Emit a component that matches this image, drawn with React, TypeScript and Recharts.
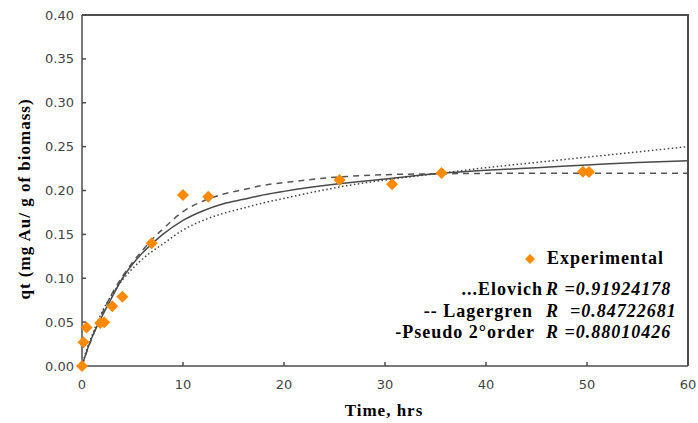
import React from "react";
import { ComposedChart, Line, Scatter, XAxis, YAxis, Legend } from "recharts";

// experimental points
const expTime = [0, 0.15, 0.45, 1.8, 2.2, 3.0, 4.0, 6.9, 10.0, 12.5, 25.5, 30.7, 35.6, 49.6, 50.2];
const expQt = [0.0, 0.027, 0.044, 0.049, 0.05, 0.068, 0.079, 0.14, 0.195, 0.193, 0.212, 0.207, 0.22, 0.2215, 0.2212];

// fitted curves
const fitTime = [0, 0.5, 1, 2, 3, 4, 5, 6, 7, 8, 10, 12, 14, 16, 18, 20, 25, 30, 35, 40, 45, 50, 55, 60];
const elovich = [0, 0.02, 0.035, 0.062, 0.082, 0.098, 0.111, 0.122, 0.131, 0.139, 0.155, 0.166, 0.174, 0.18, 0.186, 0.191, 0.203, 0.212, 0.219, 0.226, 0.232, 0.238, 0.244, 0.25];
const lagergren = [0, 0.017, 0.032, 0.06, 0.083, 0.102, 0.118, 0.132, 0.145, 0.156, 0.176, 0.188, 0.196, 0.201, 0.206, 0.209, 0.215, 0.218, 0.219, 0.2195, 0.2197, 0.2197, 0.2197, 0.2197];
const pseudo2 = [0, 0.018, 0.033, 0.057, 0.079, 0.1, 0.116, 0.129, 0.14, 0.15, 0.166, 0.177, 0.185, 0.19, 0.195, 0.199, 0.207, 0.213, 0.219, 0.223, 0.226, 0.229, 0.232, 0.234];

const xTicks = [0, 10, 20, 30, 40, 50, 60];
const yTicks = [0, 0.05, 0.1, 0.15, 0.2, 0.25, 0.3, 0.35, 0.4];

const modelNames = ["...Elovich", "-- Lagergren", "-Pseudo 2°order"];
const rValues = ["R =0.91924178", "R  =0.84722681", "R =0.88010426"];

const expData = expTime.map((t, i) => ({ t, q: expQt[i] }));
const curve = (vals: number[]) => fitTime.map((t, i) => ({ t, q: vals[i] }));

const ORANGE = "#ff8a00";
const AXIS = "#4d4d4d";
const serif = "'Liberation Serif', 'Times New Roman', serif";
const tickFont = { fill: "#444", fontSize: 13, fontFamily: "'DejaVu Sans', sans-serif" };

const Diamond = (props: any) => {
  const { cx, cy } = props;
  const r = 6;
  return (
    <polygon
      points={`${cx},${cy - r} ${cx + r},${cy} ${cx},${cy + r} ${cx - r},${cy}`}
      fill={ORANGE}
    />
  );
};

const rowTops = [289, 311, 332];
const labelRights = [543, 533, 535];

const renderLegend = () => (
  <div
    style={{
      position: "relative",
      width: 698,
      height: 423,
      fontFamily: serif,
      fontWeight: 700,
      fontSize: 18,
      lineHeight: "18px",
      letterSpacing: 1,
      color: "#000",
    }}
  >
    <svg style={{ position: "absolute", left: 524, top: 253 }} width={12} height={12}>
      <polygon points="6,1 11,6 6,11 1,6" fill={ORANGE} />
    </svg>
    <span style={{ position: "absolute", left: 547, top: 249, whiteSpace: "pre" }}>Experimental</span>
    {modelNames.map((name, i) => (
      <React.Fragment key={name}>
        <span style={{ position: "absolute", right: 698 - labelRights[i], top: rowTops[i] - 9, whiteSpace: "pre" }}>
          {name}
        </span>
        <span style={{ position: "absolute", left: 546, top: rowTops[i] - 9, whiteSpace: "pre", fontStyle: "italic" }}>
          {rValues[i]}
        </span>
      </React.Fragment>
    ))}
  </div>
);

export default function App() {
  return (
    <div style={{ position: "relative", width: 698, height: 423 }}>
      <style>{"body{margin:0}"}</style>
      <ComposedChart width={698} height={423} margin={{ top: 15, right: 10, bottom: 0, left: 0 }}>
        <XAxis
          dataKey="t"
          type="number"
          domain={[0, 60]}
          ticks={xTicks}
          height={57}
          stroke={AXIS}
          strokeWidth={1.5}
          tickSize={-4}
          tickMargin={18}
          tick={tickFont}
          label={{
            content: () => (
              <text x={384} y={416} textAnchor="middle" fontFamily={serif} fontWeight={700} fontSize={17} letterSpacing={1} fill="#000">
                Time, hrs
              </text>
            ),
          }}
        />
        <YAxis
          type="number"
          domain={[0, 0.4]}
          ticks={yTicks}
          width={82}
          stroke={AXIS}
          strokeWidth={1.5}
          tickSize={-4}
          tickMargin={12}
          tick={tickFont}
          tickFormatter={(v: number) => v.toFixed(2)}
          label={{
            content: () => (
              <text
                x={30}
                y={199}
                textAnchor="middle"
                transform="rotate(-90, 30, 199)"
                fontFamily={serif}
                fontWeight={700}
                fontSize={17}
                letterSpacing={1}
                fill="#000"
              >
                qt (mg Au/ g of biomass)
              </text>
            ),
          }}
        />
        <Legend
          layout="horizontal"
          verticalAlign="middle"
          align="center"
          content={renderLegend}
          wrapperStyle={{ left: 0, top: 0, width: 698, height: 423, pointerEvents: "none" }}
        />
        <Scatter data={expData} dataKey="q" shape={Diamond} isAnimationActive={false} />
        <Line data={curve(pseudo2)} dataKey="q" type="monotone" stroke="#4a4a4a" strokeWidth={1.5} dot={false} isAnimationActive={false} />
        <Line data={curve(lagergren)} dataKey="q" type="monotone" stroke="#555" strokeWidth={1.5} strokeDasharray="6 5" dot={false} isAnimationActive={false} />
        <Line data={curve(elovich)} dataKey="q" type="monotone" stroke="#444" strokeWidth={1.5} strokeDasharray="1.5 2.5" dot={false} isAnimationActive={false} />
      </ComposedChart>
      {/* plot frame, top and right edges */}
      <svg
        width={698}
        height={423}
        style={{ position: "absolute", left: 0, top: 0, pointerEvents: "none", zIndex: 5 }}
      >
        <polyline points="82,15 688,15 688,366" fill="none" stroke={AXIS} strokeWidth={2} />
      </svg>
    </div>
  );
}
